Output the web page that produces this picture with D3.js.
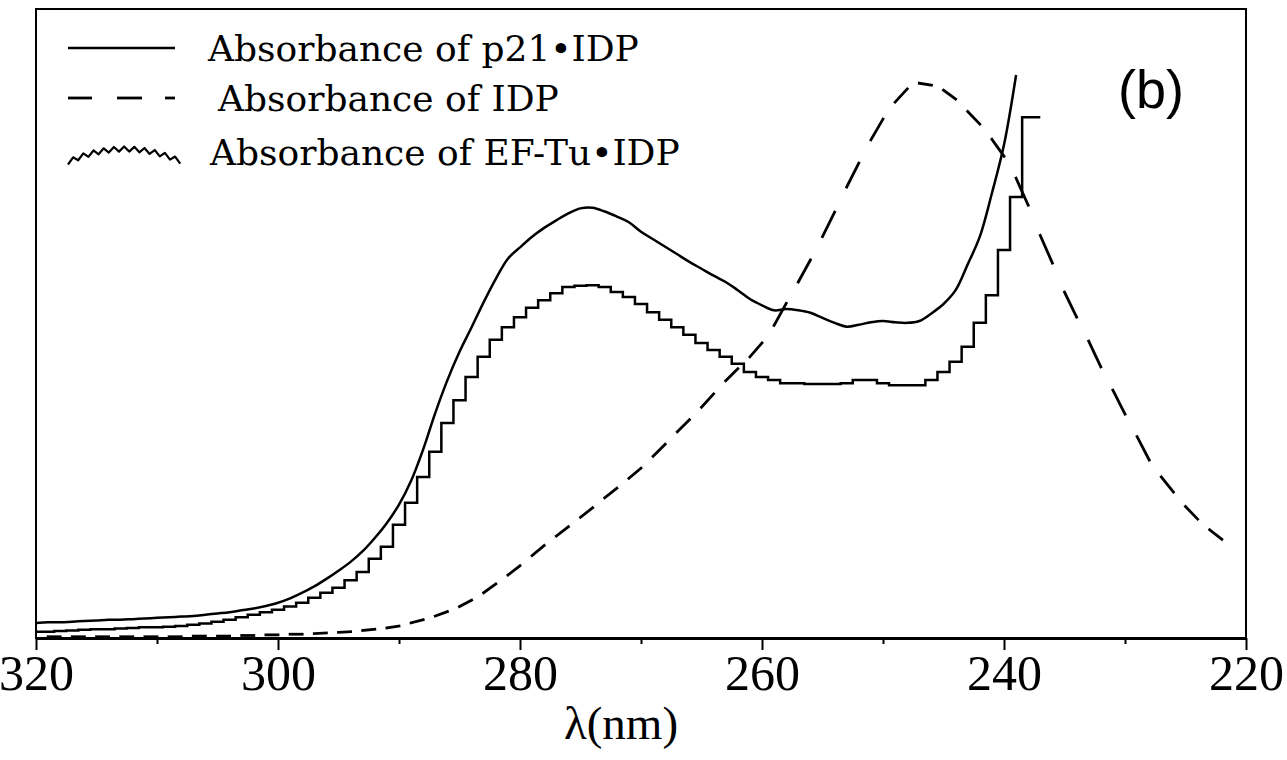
<!DOCTYPE html>
<html>
<head>
<meta charset="utf-8">
<script src="https://cdn.jsdelivr.net/npm/d3@7"></script>
<style>
  html, body { margin: 0; padding: 0; background: #fff; }
  svg { display: block; }
</style>
</head>
<body>
<svg id="chart" width="1287" height="760"></svg>
<script>
// Wavelength axis labels (nm); the axis runs from long to short wavelength.
const majorTicks = [320, 300, 280, 260, 240, 220];
const minorTicks = [310, 290, 270, 250, 230];

// p21•IDP absorbance, 320 → 239 nm in 1 nm steps (arbitrary units, frame top = 1).
const p21Wavelengths = d3.range(320, 238, -1);
const p21Absorbance = [
  0.024, 0.025, 0.025, 0.026, 0.027, 0.028, 0.029, 0.029, 0.030, 0.031,
  0.032, 0.033, 0.034, 0.035, 0.037, 0.039, 0.041, 0.044, 0.047, 0.051,
  0.056, 0.063, 0.072, 0.082, 0.094, 0.107, 0.121, 0.138, 0.159, 0.183,
  0.212, 0.250, 0.300, 0.358, 0.410, 0.455, 0.494, 0.534, 0.571, 0.603,
  0.621, 0.638, 0.652, 0.664, 0.675, 0.683, 0.684, 0.678, 0.670, 0.661,
  0.646, 0.634, 0.622, 0.610, 0.598, 0.587, 0.576, 0.566, 0.553, 0.539,
  0.529, 0.521, 0.523, 0.521, 0.517, 0.509, 0.501, 0.495, 0.498, 0.502,
  0.504, 0.502, 0.501, 0.504, 0.516, 0.531, 0.553, 0.594, 0.638, 0.707,
  0.784, 0.895
];

// EF-Tu•IDP absorbance, 320 → 237 nm in 1 nm steps.
const efTuWavelengths = d3.range(320, 236, -1);
const efTuAbsorbance = [
  0.010, 0.010, 0.011, 0.012, 0.013, 0.014, 0.014, 0.015, 0.016, 0.017,
  0.017, 0.018, 0.019, 0.021, 0.023, 0.026, 0.029, 0.033, 0.037, 0.041,
  0.045, 0.050, 0.056, 0.064, 0.072, 0.080, 0.092, 0.105, 0.126, 0.145,
  0.180, 0.215, 0.256, 0.296, 0.342, 0.378, 0.415, 0.447, 0.474, 0.494,
  0.510, 0.525, 0.537, 0.548, 0.558, 0.560, 0.561, 0.558, 0.550, 0.542,
  0.531, 0.518, 0.506, 0.494, 0.482, 0.469, 0.458, 0.447, 0.436, 0.423,
  0.415, 0.410, 0.405, 0.405, 0.404, 0.404, 0.404, 0.405, 0.410, 0.410,
  0.405, 0.402, 0.402, 0.402, 0.410, 0.423, 0.439, 0.463, 0.501, 0.545,
  0.617, 0.701, 0.828, 0.828
];

// Free IDP absorbance, 320 → 222 nm in 1 nm steps.
const idpWavelengths = d3.range(320, 221, -1);
const idpAbsorbance = [
  0.002, 0.002, 0.002, 0.002, 0.002, 0.002, 0.002, 0.002, 0.002, 0.002,
  0.002, 0.002, 0.002, 0.003, 0.003, 0.003, 0.003, 0.004, 0.004, 0.005,
  0.005, 0.006, 0.006, 0.007, 0.008, 0.009, 0.010, 0.012, 0.014, 0.016,
  0.019, 0.024, 0.029, 0.035, 0.042, 0.050, 0.060, 0.072, 0.086, 0.100,
  0.115, 0.131, 0.147, 0.162, 0.177, 0.192, 0.207, 0.223, 0.238, 0.254,
  0.270, 0.289, 0.308, 0.328, 0.347, 0.367, 0.388, 0.409, 0.428, 0.447,
  0.469, 0.497, 0.532, 0.566, 0.601, 0.638, 0.677, 0.717, 0.755, 0.792,
  0.825, 0.852, 0.873, 0.882, 0.879, 0.871, 0.857, 0.837, 0.817, 0.793,
  0.766, 0.731, 0.688, 0.640, 0.596, 0.550, 0.510, 0.472, 0.431, 0.394,
  0.356, 0.320, 0.283, 0.256, 0.232, 0.209, 0.189, 0.172, 0.157
];

const legendLabels = ["Absorbance of p21\u2022IDP", "Absorbance of IDP", "Absorbance of EF-Tu\u2022IDP"];
const panelLabel = "(b)";
const axisTitle = "\u03bb(nm)";

const svg = d3.select("#chart");
const plot = { left: 36, right: 1246, top: 9, bottom: 638 };

const x = d3.scaleLinear().domain([320, 220]).range([plot.left, plot.right]);
const y = d3.scaleLinear().domain([0, 1]).range([plot.bottom, plot.top]);

const zip = (wl, vals) => wl.map((w, i) => ({ wl: w, a: vals[i] }));
const p21 = zip(p21Wavelengths, p21Absorbance);
const efTu = zip(efTuWavelengths, efTuAbsorbance);
const idp = zip(idpWavelengths, idpAbsorbance);

// Frame
svg.append("rect")
  .attr("x", plot.left).attr("y", plot.top)
  .attr("width", plot.right - plot.left).attr("height", plot.bottom - plot.top)
  .attr("fill", "none").attr("stroke", "#000").attr("stroke-width", 2);

// Bottom axis: labelled major ticks and unlabelled minor ticks
const axisG = svg.append("g").attr("transform", `translate(0,${plot.bottom})`);
axisG.call(d3.axisBottom(x).tickValues(majorTicks).tickSize(12).tickSizeOuter(0).tickPadding(4).tickFormat(d3.format("d")));
axisG.select(".domain").attr("stroke-width", 3);
axisG.selectAll(".tick line").attr("stroke-width", 2);
axisG.selectAll(".tick text")
  .attr("font-family", "'Liberation Serif', serif")
  .attr("font-size", 50)
  .attr("fill", "#000");

const minorG = svg.append("g").attr("transform", `translate(0,${plot.bottom})`);
minorG.call(d3.axisBottom(x).tickValues(minorTicks).tickSize(6).tickSizeOuter(0).tickFormat(""));
minorG.select(".domain").remove();
minorG.selectAll(".tick line").attr("stroke-width", 2);

svg.append("text")
  .attr("x", 621).attr("y", 739)
  .attr("text-anchor", "middle")
  .attr("font-family", "'Liberation Serif', serif")
  .attr("font-size", 47)
  .text(axisTitle);

// p21•IDP: smooth solid curve
svg.append("path")
  .datum(p21)
  .attr("d", d3.line().x(d => x(d.wl)).y(d => y(d.a)).curve(d3.curveCatmullRom.alpha(0.5)))
  .attr("fill", "none").attr("stroke", "#000").attr("stroke-width", 2.5);

// EF-Tu•IDP: stepped trace
svg.append("path")
  .datum(efTu)
  .attr("d", d3.line().x(d => x(d.wl)).y(d => y(d.a)).curve(d3.curveStep))
  .attr("fill", "none").attr("stroke", "#000").attr("stroke-width", 2.5);

// IDP: dashed, one dash per alternate 1 nm interval
const dashLine = d3.line().x(d => x(d.wl)).y(d => y(d.a));
svg.append("g").selectAll("path")
  .data(d3.pairs(idp).filter(([a]) => a.wl % 2 === 1))
  .join("path")
  .attr("d", d => dashLine(d))
  .attr("fill", "none").attr("stroke", "#000").attr("stroke-width", 2.8)
  .attr("stroke-linecap", "square");

// Legend
const legend = svg.append("g");
const rows = [
  { y: 48, textX: 208, base: 61 },
  { y: 98, textX: 218, base: 111 },
  { y: 152, textX: 210, base: 165 }
];

legend.append("line")
  .attr("x1", 68).attr("x2", 175).attr("y1", rows[0].y).attr("y2", rows[0].y)
  .attr("stroke", "#000").attr("stroke-width", 2.5);

[[68, 92], [117, 142], [165, 175]].forEach(([a, b]) => {
  legend.append("line")
    .attr("x1", a).attr("x2", b).attr("y1", rows[1].y).attr("y2", rows[1].y)
    .attr("stroke", "#000").attr("stroke-width", 2.8);
});

// zig-zag sample under an arched envelope
const zig = d3.range(0, 23).map(i => {
  const px = 68 + i * 5.1;
  const env = rows[2].y - 3 + 13 * Math.pow((px - 125) / 57, 2);
  return [px, env + (i % 2 === 0 ? 2.5 : -2.5)];
});
legend.append("path")
  .attr("d", d3.line()(zig))
  .attr("fill", "none").attr("stroke", "#000").attr("stroke-width", 2.2)
  .attr("stroke-linejoin", "round");

legendLabels.forEach((t, i) => {
  legend.append("text")
    .attr("x", rows[i].textX).attr("y", rows[i].base)
    .attr("font-family", "'DejaVu Serif', serif")
    .attr("font-size", 36)
    .text(t);
});

svg.append("text")
  .attr("x", 1151).attr("y", 108)
  .attr("text-anchor", "middle")
  .attr("font-family", "'Liberation Sans', Arial, sans-serif")
  .attr("font-size", 54)
  .text(panelLabel);
</script>
</body>
</html>
